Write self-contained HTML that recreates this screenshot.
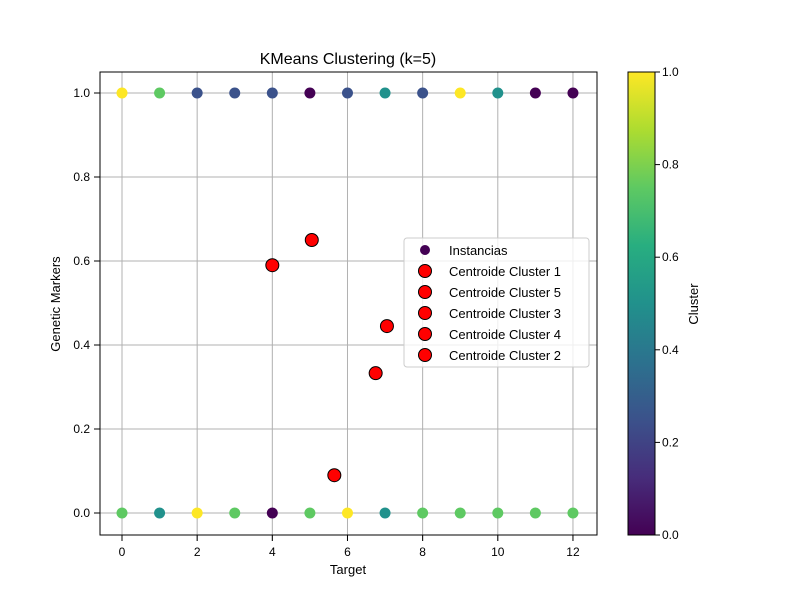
<!DOCTYPE html>
<html><head><meta charset="utf-8"><style>body{margin:0;background:#fff}svg text{font-family:"Liberation Sans","DejaVu Sans",sans-serif;fill:#000}</style></head>
<body>
<svg id="chart" width="800" height="600" xmlns="http://www.w3.org/2000/svg">
<defs><linearGradient id="vir" x1="0" y1="1" x2="0" y2="0">
<stop offset="0" stop-color="#440154"/><stop offset="0.125" stop-color="#472d7b"/><stop offset="0.25" stop-color="#3b528b"/><stop offset="0.375" stop-color="#2c728e"/><stop offset="0.5" stop-color="#21918c"/><stop offset="0.625" stop-color="#28ae80"/><stop offset="0.75" stop-color="#5ec962"/><stop offset="0.875" stop-color="#addc30"/><stop offset="1" stop-color="#fde725"/></linearGradient></defs>
<text x="348" y="64" font-size="16" text-anchor="middle">KMeans Clustering (k=5)</text>
<g id="grid"></g><g id="pts"></g>
<rect x="100" y="72" width="497" height="463" fill="none" stroke="#000" stroke-width="1"/>
<text x="348" y="574" font-size="13" text-anchor="middle">Target</text>
<text transform="translate(60,304) rotate(-90)" font-size="13" text-anchor="middle">Genetic Markers</text>
<g>
<rect x="404" y="238" width="185" height="129" rx="3" fill="#fff" fill-opacity="0.8" stroke="#ccc"/>
<circle cx="425" cy="250" r="5" fill="#440154"/><text x="449" y="255" font-size="13">Instancias</text>
<g id="legc"></g></g>
<rect x="628" y="72" width="27" height="463" fill="url(#vir)" stroke="#000" stroke-width="1"/>
<g id="cb"></g>
<text transform="translate(698,304) rotate(-90)" font-size="13" text-anchor="middle">Cluster</text>
</svg>
<script>
const topX=[0,1,2,3,4,5,6,7,8,9,10,11,12];
const topC=[1,0.75,0.25,0.25,0.25,0,0.25,0.5,0.25,1,0.5,0,0];
const botX=[0,1,2,3,4,5,6,7,8,9,10,11,12];
const botC=[0.75,0.5,1,0.75,0,0.75,1,0.5,0.75,0.75,0.75,0.75,0.75];
const centX=[4,5.05,7.05,6.75,5.65];
const centY=[0.59,0.65,0.445,0.333,0.09];
const centLabels=["Centroide Cluster 1","Centroide Cluster 5","Centroide Cluster 3","Centroide Cluster 4","Centroide Cluster 2"];
const xTicks=[0,2,4,6,8,10,12];
const yTicks=[0,0.2,0.4,0.6,0.8,1.0];
const cbTicks=[0,0.2,0.4,0.6,0.8,1.0];
const X=v=>122+v*37.58, Y=v=>513-v*420, CB=v=>535-v*463;
const vir=[[0,"#440154"],[0.25,"#3b528b"],[0.5,"#21918c"],[0.75,"#5ec962"],[1,"#fde725"]];
const col=v=>{let b=vir[0];for(const c of vir)if(Math.abs(c[0]-v)<Math.abs(b[0]-v))b=c;return b[1];};
const NS="http://www.w3.org/2000/svg";
function mk(p,t,a){const e=document.createElementNS(NS,t);for(const k in a)e.setAttribute(k,a[k]);document.getElementById(p).appendChild(e);return e;}
xTicks.forEach(t=>{const x=X(t);
const l=mk("grid","line",{x1:x,x2:x,y1:72,y2:541,stroke:"#b0b0b0","stroke-width":1});


mk("grid","line",{x1:x,x2:x,y1:535,y2:541,stroke:"#000"});
const tx=mk("grid","text",{x:x,y:556,"font-size":12,"text-anchor":"middle"});tx.textContent=t;

});
yTicks.forEach(t=>{const y=Y(t);
const l=mk("grid","line",{x1:94,x2:597,y1:y,y2:y,stroke:"#b0b0b0","stroke-width":1});


mk("grid","line",{x1:94,x2:100,y1:y,y2:y,stroke:"#000"});
const tx=mk("grid","text",{x:90,y:y+4,"font-size":12,"text-anchor":"end"});tx.textContent=t.toFixed(1);

});
topX.forEach((x,i)=>{const c=mk("pts","circle",{cx:X(x),cy:Y(1),r:5.5,fill:col(topC[i])});

});
botX.forEach((x,i)=>{const c=mk("pts","circle",{cx:X(x),cy:Y(0),r:5.5,fill:col(botC[i])});

});
centX.forEach((x,i)=>{const c=mk("pts","circle",{cx:X(x),cy:Y(centY[i]),r:6.5,fill:"#ff0000",stroke:"#000","stroke-width":1});

});
centLabels.forEach((s,i)=>{const y=271+i*21;
const c=mk("legc","circle",{cx:425,cy:y,r:6.5,fill:"#ff0000",stroke:"#000"});


const t=mk("legc","text",{x:449,y:y+5,"font-size":13});t.textContent=s;

});
cbTicks.forEach(t=>{const y=CB(t);
mk("cb","line",{x1:655,x2:660,y1:y,y2:y,stroke:"#000"});
const tx=mk("cb","text",{x:662,y:y+4,"font-size":12});tx.textContent=t.toFixed(1);

});
</script>
</body></html>
